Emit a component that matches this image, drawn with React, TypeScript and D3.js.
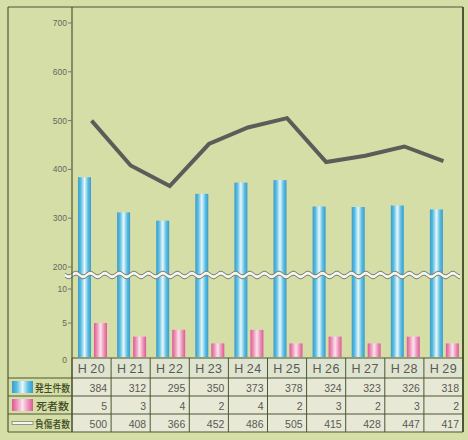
import React from "react";
import * as d3 from "d3";

const years = ["H20", "H21", "H22", "H23", "H24", "H25", "H26", "H27", "H28", "H29"];
const incidents = [384, 312, 295, 350, 373, 378, 324, 323, 326, 318];
const deaths = [5, 3, 4, 2, 4, 2, 3, 2, 3, 2];
const injured = [500, 408, 366, 452, 486, 505, 415, 428, 447, 417];
const upperTicks = [200, 300, 400, 500, 600, 700];
const lowerTicks = [0, 5, 10];
const rowLabels = ["発生件数", "死者数", "負傷者数"];

const W = 468, H = 440;
const frameL = 8, frameT = 7, frameR = 463;
const axisX = 72;
const waveY = 275;
const rowEdges = [358, 378, 396, 414, 432];

const BG = "#d6dea8";
const LINE = "#4d5732";
const TXT = "#5a5a52";

export default function App() {
  const x = d3.scaleBand<string>().domain(years).range([axisX, frameR]).padding(0);
  const bw = x.bandwidth();
  const yTop = d3.scaleLinear().domain([200, 700]).range([267, 23]);
  const yBot = d3.scaleLinear().domain([0, 10]).range([357, 289]);

  const lineGen = d3
    .line<number>()
    .x((_, i) => (x(years[i]) as number) + bw / 2)
    .y((d) => yTop(d));

  const wavePts = d3.range(65, 461, 1);
  const wy = (d: number) => 1.8 * Math.sin(((d - 65) / 14.5) * 2 * Math.PI);
  const waveLine = (off: number) =>
    d3.line<number>().x((d) => d).y((d) => waveY + off + wy(d))(wavePts) as string;
  const waveArea = d3
    .area<number>()
    .x((d) => d)
    .y0((d) => waveY - 2 + wy(d))
    .y1((d) => waveY + 2 + wy(d))(wavePts) as string;

  const rows = [incidents, deaths, injured];

  return (
    <svg width={W} height={H} style={{ position: "absolute", left: 0, top: 0, display: "block" }}
      fontFamily="'Noto Sans CJK JP', 'Liberation Sans', sans-serif">
      <defs>
        <linearGradient id="blueG" x1="0" x2="1" y1="0" y2="0">
          <stop offset="0%" stopColor="#3a9ccb" />
          <stop offset="22%" stopColor="#58bde2" />
          <stop offset="50%" stopColor="#e8f7fb" />
          <stop offset="78%" stopColor="#58bde2" />
          <stop offset="100%" stopColor="#3a9ccb" />
        </linearGradient>
        <linearGradient id="pinkG" x1="0" x2="1" y1="0" y2="0">
          <stop offset="0%" stopColor="#dd5a94" />
          <stop offset="22%" stopColor="#ec8fb6" />
          <stop offset="50%" stopColor="#fbe3ed" />
          <stop offset="78%" stopColor="#ec8fb6" />
          <stop offset="100%" stopColor="#dd5a94" />
        </linearGradient>
      </defs>
      <rect x={0} y={0} width={W} height={H} fill={BG} />

      {/* table cells */}
      {years.map((yr) => (
        <g key={"cell" + yr}>
          <rect x={x(yr)} y={rowEdges[0]} width={bw} height={rowEdges[1] - rowEdges[0]} fill="#dfe4d1" />
          <rect x={x(yr)} y={rowEdges[1]} width={bw} height={rowEdges[4] - rowEdges[1]} fill="#e7e8d6" />
        </g>
      ))}

      {/* bars */}
      {years.map((yr, i) => (
        <rect key={"b" + yr} x={(x(yr) as number) + 6} y={yTop(incidents[i])} width={13}
          height={yBot(0) - yTop(incidents[i])} fill="url(#blueG)" />
      ))}
      {years.map((yr, i) => (
        <rect key={"p" + yr} x={(x(yr) as number) + 22} y={yBot(deaths[i])} width={13}
          height={yBot(0) - yBot(deaths[i])} fill="url(#pinkG)" />
      ))}

      {/* injured line */}
      <path d={lineGen(injured) as string} fill="none" stroke="#5b5d58" strokeWidth={4} strokeLinejoin="miter" />

      {/* wave break */}
      <path d={waveArea} fill="#f4f6ee" />
      <path d={waveLine(-2)} fill="none" stroke="#7a7d72" strokeWidth={1} />
      <path d={waveLine(2)} fill="none" stroke="#7a7d72" strokeWidth={1} />

      {/* frame */}
      <line x1={frameL} x2={frameR} y1={frameT} y2={frameT} stroke={LINE} strokeWidth={1.2} />
      <line x1={frameL} x2={frameL} y1={frameT} y2={rowEdges[4]} stroke={LINE} strokeWidth={1.2} />
      <line x1={frameR} x2={frameR} y1={frameT} y2={rowEdges[4]} stroke={LINE} strokeWidth={2} />
      <line x1={axisX} x2={axisX} y1={frameT} y2={rowEdges[4]} stroke={LINE} strokeWidth={1.2} />

      {/* ticks */}
      {upperTicks.map((t) => (
        <g key={"ut" + t}>
          <line x1={axisX - 4} x2={axisX} y1={yTop(t)} y2={yTop(t)} stroke="#777" strokeWidth={1} />
          <text x={axisX - 5} y={yTop(t) + 3} fontSize={8.5} fill="#66665e" textAnchor="end"
            fontFamily="'Liberation Sans', sans-serif">{t}</text>
        </g>
      ))}
      {lowerTicks.map((t) => (
        <g key={"lt" + t}>
          {t > 0 && <line x1={axisX - 4} x2={axisX} y1={yBot(t)} y2={yBot(t)} stroke="#777" strokeWidth={1} />}
          <text x={axisX - 5} y={t === 0 ? yBot(t) + 6 : yBot(t) + 3} fontSize={8.5} fill="#66665e" textAnchor="end"
            fontFamily="'Liberation Sans', sans-serif">{t}</text>
        </g>
      ))}

      {/* table grid */}
      {rowEdges.map((ry, i) => (
        <line key={"rl" + i} x1={i === 0 ? axisX : frameL} x2={frameR} y1={ry} y2={ry} stroke={LINE} strokeWidth={1.2} />
      ))}
      {years.map((yr) => (
        <line key={"vl" + yr} x1={x(yr)} x2={x(yr)} y1={rowEdges[0]} y2={rowEdges[4]} stroke={LINE} strokeWidth={1} />
      ))}

      {/* header */}
      {years.map((yr) => (
        <text key={"h" + yr} x={(x(yr) as number) + bw / 2} y={rowEdges[0] + 15} fontSize={12.5}
          fill={TXT} textAnchor="middle" fontFamily="'Liberation Sans', sans-serif" letterSpacing={0.5}>
          {"H\u2009" + yr.slice(1)}
        </text>
      ))}

      {/* data */}
      {rows.map((vals, r) =>
        years.map((yr, i) => (
          <text key={"d" + r + yr} x={(x(yr) as number) + bw - 4} y={rowEdges[r + 1] + 13.5} fontSize={10.5}
            fill={TXT} textAnchor="end" fontFamily="'Liberation Sans', sans-serif">{vals[i]}</text>
        ))
      )}

      {/* row labels with legend swatches */}
      <rect x={12} y={rowEdges[1] + 3} width={21} height={12} fill="url(#blueG)" />
      <rect x={12} y={rowEdges[2] + 3} width={21} height={12} fill="url(#pinkG)" />
      <rect x={12} y={rowEdges[3] + 7.5} width={21} height={3} fill="#f6f6f0" stroke="#808078" strokeWidth={0.8} />
      {rowLabels.map((lab, r) => (
        <text key={"lab" + r} x={r === 1 ? 36 : 35} y={rowEdges[r + 1] + 13.5} fontSize={10.5}
          fontWeight={500} fill="#3f4a26" textAnchor="start"
          textLength={r === 1 ? 33 : 35} lengthAdjust="spacingAndGlyphs">{lab}</text>
      ))}
    </svg>
  );
}
